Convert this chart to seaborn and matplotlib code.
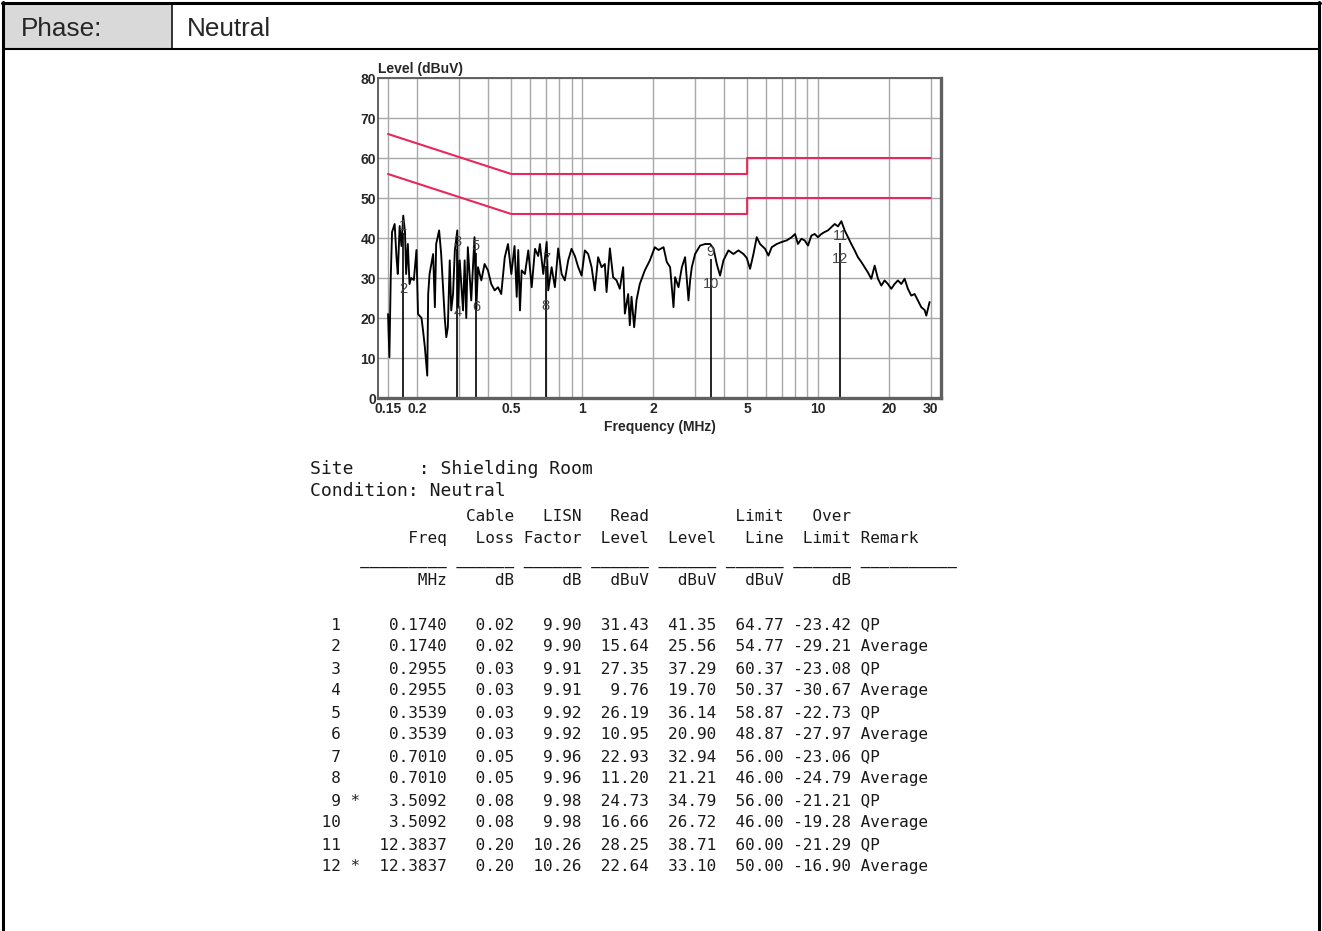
import matplotlib
matplotlib.use("Agg")
import matplotlib.pyplot as plt
import seaborn as sns
import pandas as pd
from matplotlib.patches import Rectangle
from matplotlib.ticker import FixedLocator, FixedFormatter, NullLocator

sns.set_style("white")
plt.rcParams["font.family"] = ["Liberation Sans", "DejaVu Sans"]

# -------------------------------
# Data
# -------------------------------
trace_freq = [
    0.150, 0.152, 0.154, 0.156, 0.160, 0.163, 0.165, 0.168, 0.171, 0.174, 0.177, 0.179,
    0.182, 0.185, 0.188, 0.193, 0.198, 0.201, 0.208, 0.211, 0.215, 0.220, 0.222, 0.225,
    0.233, 0.237, 0.240, 0.247, 0.252, 0.261, 0.265, 0.269, 0.274, 0.278, 0.283, 0.288,
    0.295, 0.297, 0.302, 0.312, 0.317, 0.322, 0.327, 0.338, 0.349, 0.355, 0.361, 0.373,
    0.385, 0.398, 0.411, 0.425, 0.439, 0.453, 0.469, 0.484, 0.500, 0.516,
    0.527, 0.535, 0.544, 0.553, 0.571, 0.590, 0.610, 0.630, 0.650, 0.661, 0.683, 0.706,
    0.717, 0.741, 0.765, 0.790, 0.817, 0.843, 0.871, 0.900, 0.930, 0.961, 0.993, 1.025,
    1.059, 1.095, 1.130, 1.167, 1.207, 1.246, 1.267, 1.309, 1.351, 1.397, 1.442, 1.490,
    1.515, 1.565, 1.590, 1.617, 1.659, 1.698, 1.753, 1.841, 1.934, 2.030,
    2.104, 2.210, 2.282, 2.357, 2.436, 2.475, 2.558, 2.643, 2.728, 2.820, 2.865, 2.913,
    3.008, 3.158, 3.317, 3.482, 3.599, 3.717, 3.839, 3.967, 4.166, 4.374, 4.593, 4.823,
    4.982, 5.145, 5.318, 5.491, 5.672, 5.955, 6.155, 6.357, 6.675, 7.008, 7.359, 7.727,
    7.979,
    8.216, 8.493, 8.771, 9.058, 9.363, 9.669, 9.987, 10.32, 10.66, 11.01, 11.38, 11.76,
    12.14, 12.55, 12.96, 13.38, 13.83, 14.29, 14.75, 15.25, 15.75, 16.26, 16.81, 17.37,
    17.94, 18.54, 19.14, 19.77, 20.43, 21.10, 21.80, 22.53, 23.27, 24.03, 24.84, 25.66,
    26.49, 27.39, 28.29, 28.76, 29.70,
]
trace_level = [
    21, 10.2, 30, 41.5, 43.5, 35, 31, 43, 38, 45.6, 41.5, 31,
    38.5, 28.5, 30, 29.5, 37, 21, 20, 17, 12.6, 5.6, 26, 31,
    36, 22.7, 38.5, 41.9, 36, 20, 15.2, 17.7, 34.4, 21.9, 26, 36.9,
    41.9, 22.7, 34.4, 21.9, 34.4, 20, 37.7, 24.4, 40.2, 21.9, 32.7, 29.4,
    33.5, 31.9, 28.5, 26.9, 27.7, 26, 35.2, 38.5, 31, 38,
    25.3, 37, 21.9, 31.9, 31, 36.9, 27.7, 37.3, 35.5, 38.5, 31, 39,
    26.9, 32.7, 27.7, 37.4, 31, 29.4, 34.4, 37.3, 35.5, 32.7, 30.6, 36.9,
    36, 32.7, 26.9, 35.2, 32.7, 33.5, 26.5, 37.4, 30.2, 29.4, 27.3, 32.7,
    21.1, 26, 18.2, 25.3, 17.7, 24.5, 28.5, 31.9, 34.4, 37.7,
    37, 37.7, 34, 32.7, 22.7, 30.2, 27.7, 32.7, 35.2, 24.4, 29.4, 32.7,
    36, 38.1, 38.5, 38.5, 37.4, 33.5, 30.6, 34.4, 36.9, 36, 36.9, 36,
    35, 32.3, 36, 40.2, 38.5, 37.3, 35.6, 37.7, 38.5, 39, 39.4, 40.2,
    41,
    38.5, 39.8, 39.4, 38.1, 40.6, 41, 40.2, 41, 41.5, 41.9, 42.7, 43.5,
    42.9, 44.2, 41.9, 40.2, 38.5, 36.9, 35.2, 34, 32.7, 31.4, 29.8, 33.1,
    29.8, 28.1, 29.4, 28.5, 27.3, 28.5, 29.4, 28.5, 29.8, 27.3, 25.6, 26,
    24.4, 22.7, 22, 20.6, 24,
]

limit_freq = [0.15, 0.5, 5, 5, 30]
qp_limit = [66, 56, 56, 60, 60]
avg_limit = [56, 46, 46, 50, 50]

mk_no = [1, 2, 3, 4, 5, 6, 7, 8, 9, 10, 11, 12]
mk_star = ["", "", "", "", "", "", "", "", "*", "", "", "*"]
mk_freq = [0.1740, 0.1740, 0.2955, 0.2955, 0.3539, 0.3539, 0.7010, 0.7010,
           3.5092, 3.5092, 12.3837, 12.3837]
mk_cable = [0.02, 0.02, 0.03, 0.03, 0.03, 0.03, 0.05, 0.05, 0.08, 0.08, 0.20, 0.20]
mk_lisn = [9.90, 9.90, 9.91, 9.91, 9.92, 9.92, 9.96, 9.96, 9.98, 9.98, 10.26, 10.26]
mk_read = [31.43, 15.64, 27.35, 9.76, 26.19, 10.95, 22.93, 11.20, 24.73, 16.66, 28.25, 22.64]
mk_level = [41.35, 25.56, 37.29, 19.70, 36.14, 20.90, 32.94, 21.21, 34.79, 26.72, 38.71, 33.10]
mk_limit = [64.77, 54.77, 60.37, 50.37, 58.87, 48.87, 56.00, 46.00, 56.00, 46.00, 60.00, 50.00]
mk_over = [-23.42, -29.21, -23.08, -30.67, -22.73, -27.97, -23.06, -24.79,
           -21.21, -19.28, -21.29, -16.90]
mk_remark = ["QP", "Average"] * 6

grid_freq = [0.15, 0.2, 0.3, 0.4, 0.5, 0.6, 0.7, 0.8, 0.9,
             1, 2, 3, 4, 5, 6, 7, 8, 9, 10, 20, 30]
labeled = {0.15: "0.15", 0.2: "0.2", 0.5: "0.5", 1: "1", 2: "2",
           5: "5", 10: "10", 20: "20", 30: "30"}

# -------------------------------
# Page frame
# -------------------------------
fig = plt.figure(figsize=(13.22, 9.31), dpi=100)
bg = fig.add_axes([0, 0, 1, 1])
bg.set_xlim(0, 1322)
bg.set_ylim(931, 0)
bg.axis("off")

bg.add_patch(Rectangle((3, 3), 169, 46, facecolor="#d9d9d9", edgecolor="none"))
bg.plot([3, 3], [2, 931], color="black", lw=2.2)
bg.plot([2, 1320], [3, 3], color="black", lw=2.2)
bg.plot([1319, 1319], [2, 931], color="black", lw=2.2)
bg.plot([3, 1319], [49, 49], color="black", lw=1.5)
bg.plot([172, 172], [3, 49], color="black", lw=1.1)
bg.text(21, 29, "Phase:", fontsize=18.8, va="center")
bg.text(187, 29, "Neutral", fontsize=18.8, va="center")

# -------------------------------
# Spectrum chart
# -------------------------------
ax = fig.add_axes([378 / 1322, 1 - 398 / 931, 563 / 1322, 320 / 931])

df_trace = pd.DataFrame({"freq": trace_freq, "level": trace_level})
sns.lineplot(data=df_trace, x="freq", y="level", ax=ax, color="black",
             lw=1.35, estimator=None, sort=False)

df_lim = pd.DataFrame({"freq": limit_freq, "qp": qp_limit, "avg": avg_limit})
sns.lineplot(data=df_lim, x="freq", y="qp", ax=ax, color="#e8285a",
             lw=1.5, estimator=None, sort=False)
sns.lineplot(data=df_lim, x="freq", y="avg", ax=ax, color="#e8285a",
             lw=1.5, estimator=None, sort=False)

# marker lines up to the QP reading
for i in range(0, len(mk_freq), 2):
    ax.vlines(mk_freq[i], 0, max(mk_level[i], mk_level[i + 1]), color="black", lw=1.2)
for n, f, lv in zip(mk_no, mk_freq, mk_level):
    ax.text(f, lv, str(n), ha="center", va="bottom", fontsize=10.5, color="#444444")

ax.set_xscale("log")
ax.set_xlim(0.136, 33.2)
ax.set_ylim(0, 80)
ax.xaxis.set_major_locator(FixedLocator(grid_freq))
ax.xaxis.set_major_formatter(FixedFormatter([labeled.get(g, "") for g in grid_freq]))
ax.xaxis.set_minor_locator(NullLocator())
ax.set_yticks(range(0, 81, 10))
ax.grid(True, color="#a8a8a8", lw=1.0)
ax.tick_params(length=0, labelsize=10)
ax.tick_params(axis="x", pad=3)
ax.tick_params(axis="y", pad=1.5)
for lab in ax.get_xticklabels() + ax.get_yticklabels():
    lab.set_fontweight("bold")
ax.set_xlabel("")
ax.set_ylabel("")
for name, s in ax.spines.items():
    s.set_color("#606060")
    s.set_linewidth(2.4 if name in ("right", "bottom") else 1.4)

bg.text(378, 69, "Level (dBuV)", fontsize=10, fontweight="bold", va="center")
bg.text(660, 427, "Frequency (MHz)", fontsize=10, fontweight="bold",
        ha="center", va="center")

# -------------------------------
# Result table
# -------------------------------
mono = "DejaVu Sans Mono"
tc = "#1a1a1a"
bg.text(310, 473.5, "Site      : Shielding Room", family=mono, fontsize=13, color=tc)
bg.text(310, 496.5, "Condition: Neutral", family=mono, fontsize=13, color=tc)

x0 = 312.5
fs = 11.55
head1 = " " * 14 + f"{'Cable':>7}{'LISN':>7}{'Read':>7}" + " " * 7 + f"{'Limit':>7}{'Over':>7}"
head2 = (f"{'Freq':>14}{'Loss':>7}{'Factor':>7}{'Level':>7}{'Level':>7}"
         f"{'Line':>7}{'Limit':>7} Remark")
rule = " " * 5 + "_" * 9 + (" " + "_" * 6) * 6 + " " + "_" * 10
units = f"{'MHz':>14}{'dB':>7}{'dB':>7}{'dBuV':>7}{'dBuV':>7}{'dBuV':>7}{'dB':>7}"
bg.text(x0, 521, head1, family=mono, fontsize=fs, color=tc)
bg.text(x0, 543, head2, family=mono, fontsize=fs, color=tc)
bg.text(x0, 563.5, rule, family=mono, fontsize=fs, color=tc)
bg.text(x0, 585, units, family=mono, fontsize=fs, color=tc)

for i in range(len(mk_no)):
    row = (f"{mk_no[i]:>3} {mk_star[i]:1}{mk_freq[i]:>9.4f}{mk_cable[i]:>7.2f}"
           f"{mk_lisn[i]:>7.2f}{mk_read[i]:>7.2f}{mk_level[i]:>7.2f}"
           f"{mk_limit[i]:>7.2f}{mk_over[i]:>7.2f} {mk_remark[i]}")
    bg.text(x0, 629 + 22 * i, row, family=mono, fontsize=fs, color=tc)

plt.savefig("out.png", dpi=100)
